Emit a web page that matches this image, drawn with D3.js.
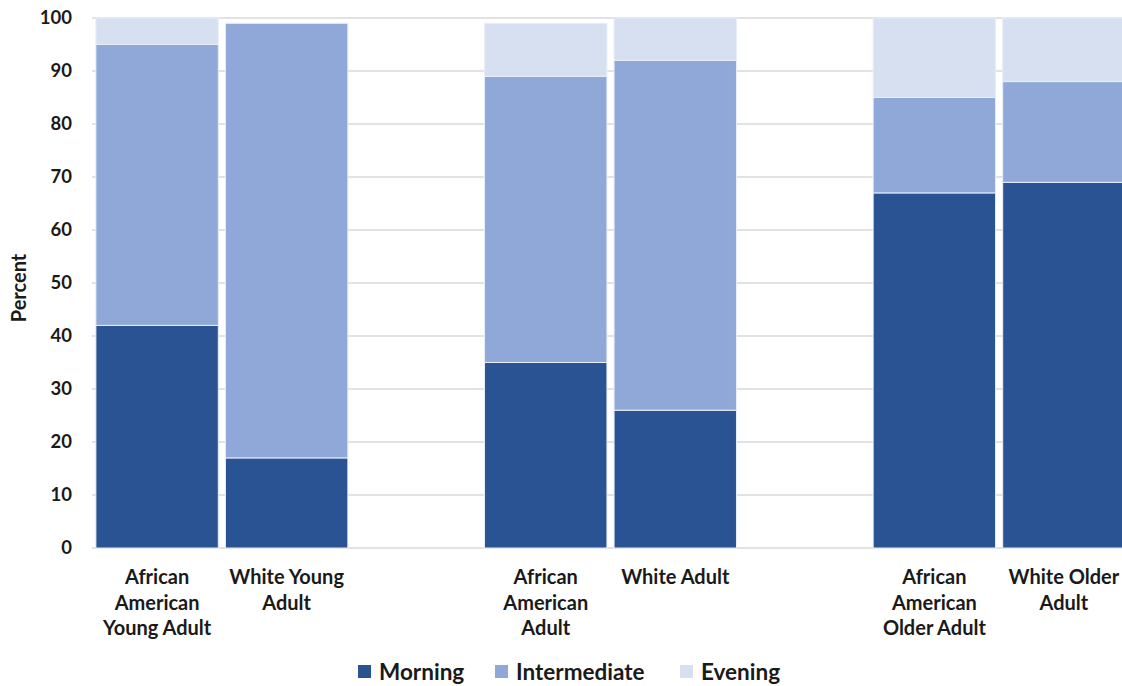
<!DOCTYPE html>
<html>
<head>
<meta charset="utf-8">
<script src="https://cdn.jsdelivr.net/npm/d3@7"></script>
<style>
  body { margin: 0; background: #fff; }
  svg { display: block; font-family: Lato, "Open Sans", sans-serif; font-weight: bold; }
</style>
</head>
<body>
<svg id="chart"></svg>
<script>
// data
const categories = [
  "African American Young Adult", "White Young Adult", "gap1",
  "African American Adult", "White Adult", "gap2",
  "African American Older Adult", "White Older Adult"
]
const labelLines = {
  "African American Young Adult": ["African", "American", "Young Adult"],
  "White Young Adult": ["White Young", "Adult"],
  "African American Adult": ["African", "American", "Adult"],
  "White Adult": ["White Adult"],
  "African American Older Adult": ["African", "American", "Older Adult"],
  "White Older Adult": ["White Older", "Adult"]
}
const groups = ["African American Young Adult", "White Young Adult", "African American Adult",
  "White Adult", "African American Older Adult", "White Older Adult"]
const morning = [42, 17, 35, 26, 67, 69]
const intermediate = [53, 82, 54, 66, 18, 19]
const evening = [5, 0, 10, 8, 15, 12]
const series = ["Morning", "Intermediate", "Evening"]
const colors = ["#2a5394", "#8fa8d8", "#d6e0f0"]
const yTicks = [0, 10, 20, 30, 40, 50, 60, 70, 80, 90, 100]

const width = 1122
const height = 686
const svg = d3.select('#chart')
    .attr("width", width)
    .attr("height", height)

const x = d3.scaleBand()
    .domain(categories)
    .range([92, 1129])
    .paddingInner(0.055)
    .paddingOuter(0.03)

const y = d3.scaleLinear()
    .domain([0, 100])
    .range([548, 18])

// gridlines
svg.append('g')
    .selectAll('line')
    .data(yTicks)
    .enter()
    .append('line')
    .attr('x1', 92)
    .attr('x2', width)
    .attr('y1', d => y(d))
    .attr('y2', d => y(d))
    .attr('stroke', '#d9d9d9')
    .attr('stroke-width', 1.5)

// y tick labels
svg.append('g')
    .selectAll('text')
    .data(yTicks)
    .enter()
    .append('text')
    .attr('x', 72)
    .attr('y', d => y(d))
    .attr('dy', '0.35em')
    .attr('text-anchor', 'end')
    .attr('font-size', 18.5)
    .attr('fill', '#1a1a1a')
    .text(d => d)

svg.append('text')
    .attr('transform', 'translate(26,288) rotate(-90)')
    .attr('text-anchor', 'middle')
    .attr('font-size', 20)
    .attr('fill', '#1a1a1a')
    .text('Percent')

// stacked bars
const rows = groups.map((g, i) => ({ group: g, Morning: morning[i], Intermediate: intermediate[i], Evening: evening[i] }))
const stacked = d3.stack().keys(series)(rows)

const layers = svg.selectAll('g.layer')
    .data(stacked)
    .enter()
    .append('g')
    .attr('class', 'layer')
    .attr('fill', (d, i) => colors[i])

layers.selectAll('rect')
    .data(d => d.filter(s => s[1] - s[0] > 0))
    .enter()
    .append('rect')
    .attr('x', d => x(d.data.group))
    .attr('width', x.bandwidth())
    .attr('y', d => y(d[1]))
    .attr('height', d => y(d[0]) - y(d[1]))
    .attr('stroke', '#e8eef8')
    .attr('stroke-width', 1)

// category labels
const labels = svg.append('g')
    .selectAll('text')
    .data(groups)
    .enter()
    .append('text')
    .attr('text-anchor', 'middle')
    .attr('font-size', 20)
    .attr('fill', '#1a1a1a')
    .attr('transform', d => `translate(${x(d) + x.bandwidth() / 2},584)`)

labels.selectAll('tspan')
    .data(d => labelLines[d])
    .enter()
    .append('tspan')
    .attr('x', 0)
    .attr('y', (d, i) => i * 25.5)
    .text(d => d)

// legend
const legendX = [358, 495, 680]
const legend = svg.append('g')
    .selectAll('g')
    .data(series)
    .enter()
    .append('g')
    .attr('transform', (d, i) => `translate(${legendX[i]},665)`)

legend.append('rect')
    .attr('width', 13)
    .attr('height', 13)
    .attr('fill', (d, i) => colors[i])

legend.append('text')
    .attr('x', 21)
    .attr('y', 14.5)
    .attr('font-size', 22.5)
    .attr('fill', '#1a1a1a')
    .text(d => d)
</script>
</body>
</html>
